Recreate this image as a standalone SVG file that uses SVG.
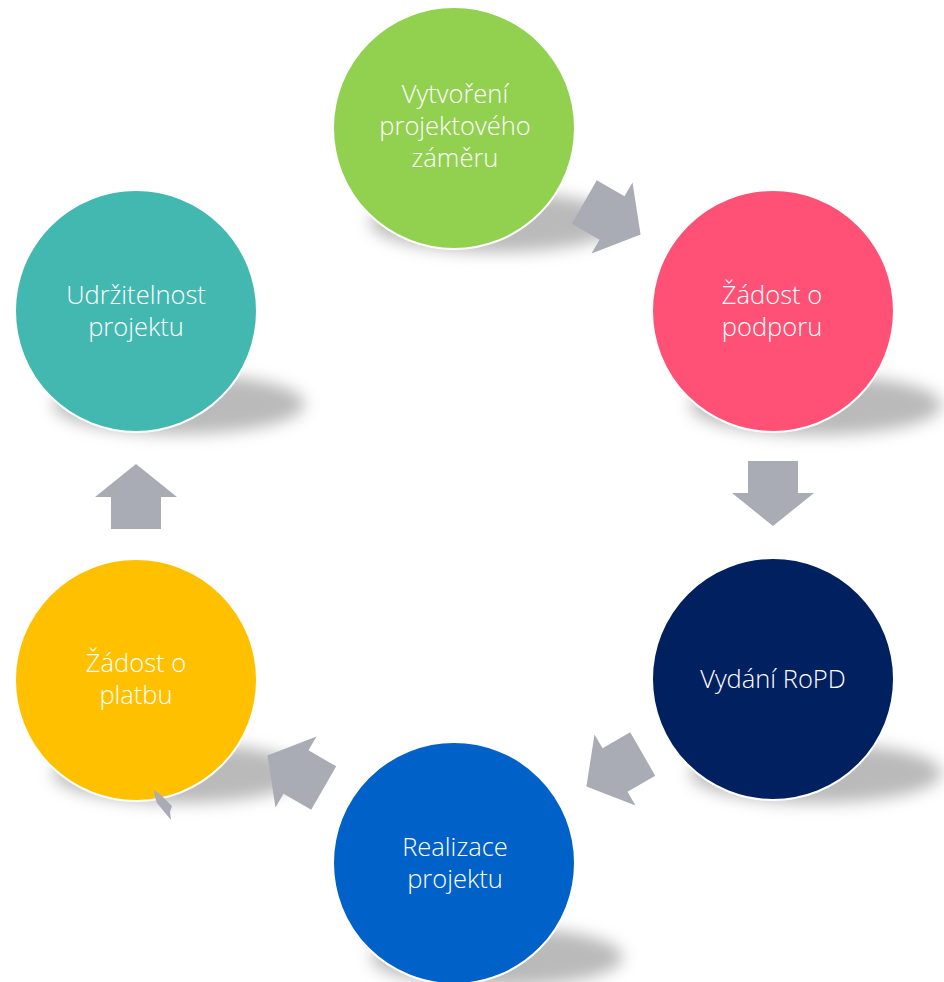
<svg xmlns="http://www.w3.org/2000/svg" xmlns:xlink="http://www.w3.org/1999/xlink" width="944" height="982" viewBox="0 0 944 982">
<style>
.c{stroke:#fff;stroke-width:2}
.sh{fill:#000;fill-opacity:0.27;filter:url(#blur)}
.t{font-family:"Open Sans","Noto Sans","Liberation Sans",sans-serif;font-weight:300;font-size:25.5px;fill:#fff;text-anchor:middle}
.a{fill:#AAACB5}
</style>
<defs>
<filter id="blur" x="-30%" y="-80%" width="160%" height="260%"><feGaussianBlur stdDeviation="8"/></filter>
<polygon id="arr" points="-32,-25 0,-25 0,-41 33,0 0,41 0,25 -32,25"/>
<radialGradient id="darkArr" cx="300" cy="768" r="45" gradientUnits="userSpaceOnUse">
<stop offset="0" stop-color="#8E9098"/>
<stop offset="1" stop-color="#AAACB5"/>
</radialGradient>
</defs>
<rect width="944" height="982" fill="#fff"/>
<g id="node-zamer">
<ellipse class="sh" cx="496" cy="222" rx="126" ry="30"/>
<circle class="c" cx="454" cy="128" r="121" fill="#92D050"/>
<text class="t" x="455"><tspan x="455" y="103">Vytvoření</tspan><tspan x="455" y="135">projektového</tspan><tspan x="455" y="167">záměru</tspan></text>
</g>
<g id="node-zadost-podpora">
<ellipse class="sh" cx="816" cy="405" rx="126" ry="30"/>
<circle class="c" cx="773" cy="311" r="121" fill="#FF5175"/>
<text class="t"><tspan x="772" y="304">Žádost o</tspan><tspan x="772" y="336">podporu</tspan></text>
</g>
<g id="node-ropd">
<ellipse class="sh" cx="816" cy="773" rx="126" ry="30"/>
<circle class="c" cx="773" cy="679" r="121" fill="#002060"/>
<text class="t"><tspan x="773" y="688">Vydání RoPD</tspan></text>
</g>
<g id="node-realizace">
<ellipse class="sh" cx="497" cy="957" rx="126" ry="30"/>
<circle class="c" cx="454" cy="863" r="121" fill="#0061C8"/>
<text class="t"><tspan x="455" y="856">Realizace</tspan><tspan x="455" y="888">projektu</tspan></text>
</g>
<g id="node-zadost-platba">
<ellipse class="sh" cx="179" cy="773" rx="126" ry="30"/>
<circle class="c" cx="136" cy="680" r="121" fill="#FFC000"/>
<text class="t"><tspan x="136" y="672">Žádost o</tspan><tspan x="136" y="704">platbu</tspan></text>
</g>
<g id="node-udrzitelnost">
<ellipse class="sh" cx="179" cy="404" rx="126" ry="30"/>
<circle class="c" cx="136" cy="311" r="121" fill="#43B8B0"/>
<text class="t"><tspan x="136" y="304">Udržitelnost</tspan><tspan x="136" y="336">projektu</tspan></text>
</g>
<g id="connectors">
<use xlink:href="#arr" class="a" transform="translate(612,218) rotate(30)"/>
<use xlink:href="#arr" class="a" transform="translate(773,493) rotate(90)"/>
<use xlink:href="#arr" class="a" transform="translate(615,770) rotate(150)"/>
<use xlink:href="#arr" fill="url(#darkArr)" transform="translate(296,772) rotate(210)"/>
<use xlink:href="#arr" class="a" transform="translate(136,497) rotate(-90)"/>
<polygon class="a" points="154,790 162,796 172,806 170,812 171,820 157,803 155,797"/>
</g>
</svg>
